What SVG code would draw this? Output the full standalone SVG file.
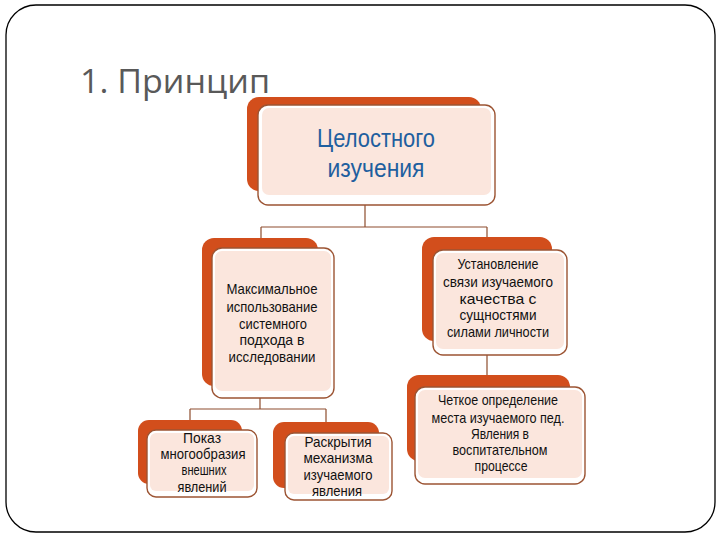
<svg xmlns="http://www.w3.org/2000/svg" width="720" height="540" viewBox="0 0 720 540">
<style>
.back{fill:#d24e1c}
.front{fill:#ffffff;stroke:#9c5433;stroke-width:1.4}
.inner{fill:#fbe6dd}
.conn{stroke:#8e4d2e;stroke-width:1.2;fill:none}
.t{font-family:"Liberation Sans",Arial,sans-serif;font-size:15px;fill:#111111;text-anchor:middle}
.big{font-family:"Liberation Sans",Arial,sans-serif;font-size:25px;fill:#1f5f9f;text-anchor:middle}
.title{font-family:"Open Sans","Liberation Sans",sans-serif;font-size:33px;fill:#595959}
</style>
<rect x="0" y="0" width="720" height="540" fill="#ffffff"/>
<rect x="6" y="5" width="709" height="527" rx="30" ry="30" fill="none" stroke="#000000" stroke-width="1.3"/>
<text class="title" x="80" y="93" textLength="190" lengthAdjust="spacingAndGlyphs">1. Принцип</text>
<g id="connectors">
<path class="conn" d="M365 205 V227 M261 227 H487 M261 227 V240 M487 227 V388"/>
<path class="conn" d="M260 397 V409 M190 409 H326 M190 409 V422 M326 409 V424"/>
</g>
<g id="node-top">
<rect class="back" x="247" y="97" width="234" height="94" rx="12"/>
<rect class="front" x="258" y="105" width="237" height="100" rx="10"/>
<rect class="inner" x="262" y="108" width="229" height="87" rx="7"/>
<text class="big" x="376" y="147" textLength="118" lengthAdjust="spacingAndGlyphs">Целостного</text>
<text class="big" x="376" y="177" textLength="97" lengthAdjust="spacingAndGlyphs">изучения</text>
</g>
<g id="node-left-mid">
<rect class="back" x="202" y="238" width="116" height="148" rx="12"/>
<rect class="front" x="212" y="248" width="122" height="150" rx="10"/>
<rect class="inner" x="215" y="251" width="116" height="140" rx="7"/>
<text class="t" x="272" y="294" textLength="91" lengthAdjust="spacingAndGlyphs">Максимальное</text>
<text class="t" x="272" y="312" textLength="91" lengthAdjust="spacingAndGlyphs">использование</text>
<text class="t" x="273" y="329" textLength="68" lengthAdjust="spacingAndGlyphs">системного</text>
<text class="t" x="272" y="345" textLength="65" lengthAdjust="spacingAndGlyphs">подхода в</text>
<text class="t" x="272" y="362" textLength="87" lengthAdjust="spacingAndGlyphs">исследовании</text>
</g>
<g id="node-right-mid">
<rect class="back" x="422" y="237" width="130" height="104" rx="12"/>
<rect class="front" x="433" y="250" width="134" height="105" rx="10"/>
<rect class="inner" x="436" y="253" width="128" height="96" rx="7"/>
<text class="t" x="498" y="269" textLength="81" lengthAdjust="spacingAndGlyphs">Установление</text>
<text class="t" x="498" y="287" textLength="110" lengthAdjust="spacingAndGlyphs">связи изучаемого</text>
<text class="t" x="498" y="304" textLength="77" lengthAdjust="spacingAndGlyphs">качества с</text>
<text class="t" x="498" y="320" textLength="77" lengthAdjust="spacingAndGlyphs">сущностями</text>
<text class="t" x="498" y="337" textLength="102" lengthAdjust="spacingAndGlyphs">силами личности</text>
</g>
<g id="node-right-bottom">
<rect class="back" x="407" y="375" width="163" height="86" rx="12"/>
<rect class="front" x="415" y="387" width="170" height="97" rx="10"/>
<rect class="inner" x="418" y="390" width="164" height="88" rx="7"/>
<text class="t" x="498" y="405" textLength="120" lengthAdjust="spacingAndGlyphs">Четкое определение</text>
<text class="t" x="498" y="423" textLength="133" lengthAdjust="spacingAndGlyphs">места изучаемого пед.</text>
<text class="t" x="500" y="439" textLength="58" lengthAdjust="spacingAndGlyphs">Явления в</text>
<text class="t" x="500" y="455" textLength="95" lengthAdjust="spacingAndGlyphs">воспитательном</text>
<text class="t" x="501" y="471" textLength="53" lengthAdjust="spacingAndGlyphs">процессе</text>
</g>
<g id="node-bottom-left">
<rect class="back" x="138" y="420" width="104" height="64" rx="11"/>
<rect class="front" x="147" y="430" width="110" height="67" rx="9"/>
<rect class="inner" x="150" y="433" width="104" height="58" rx="6"/>
<text class="t" x="202" y="443" textLength="38" lengthAdjust="spacingAndGlyphs">Показ</text>
<text class="t" x="203" y="459" textLength="85" lengthAdjust="spacingAndGlyphs">многообразия</text>
<text class="t" x="204" y="475" textLength="45" lengthAdjust="spacingAndGlyphs">внешних</text>
<text class="t" x="202" y="492" textLength="49" lengthAdjust="spacingAndGlyphs">явлений</text>
</g>
<g id="node-bottom-mid">
<rect class="back" x="273" y="422" width="106" height="66" rx="11"/>
<rect class="front" x="285" y="433" width="107" height="67" rx="9"/>
<rect class="inner" x="288" y="436" width="101" height="58" rx="6"/>
<text class="t" x="338" y="447" textLength="67" lengthAdjust="spacingAndGlyphs">Раскрытия</text>
<text class="t" x="338" y="463" textLength="69" lengthAdjust="spacingAndGlyphs">механизма</text>
<text class="t" x="338" y="480" textLength="69" lengthAdjust="spacingAndGlyphs">изучаемого</text>
<text class="t" x="337" y="496" textLength="50" lengthAdjust="spacingAndGlyphs">явления</text>
</g>
</svg>
